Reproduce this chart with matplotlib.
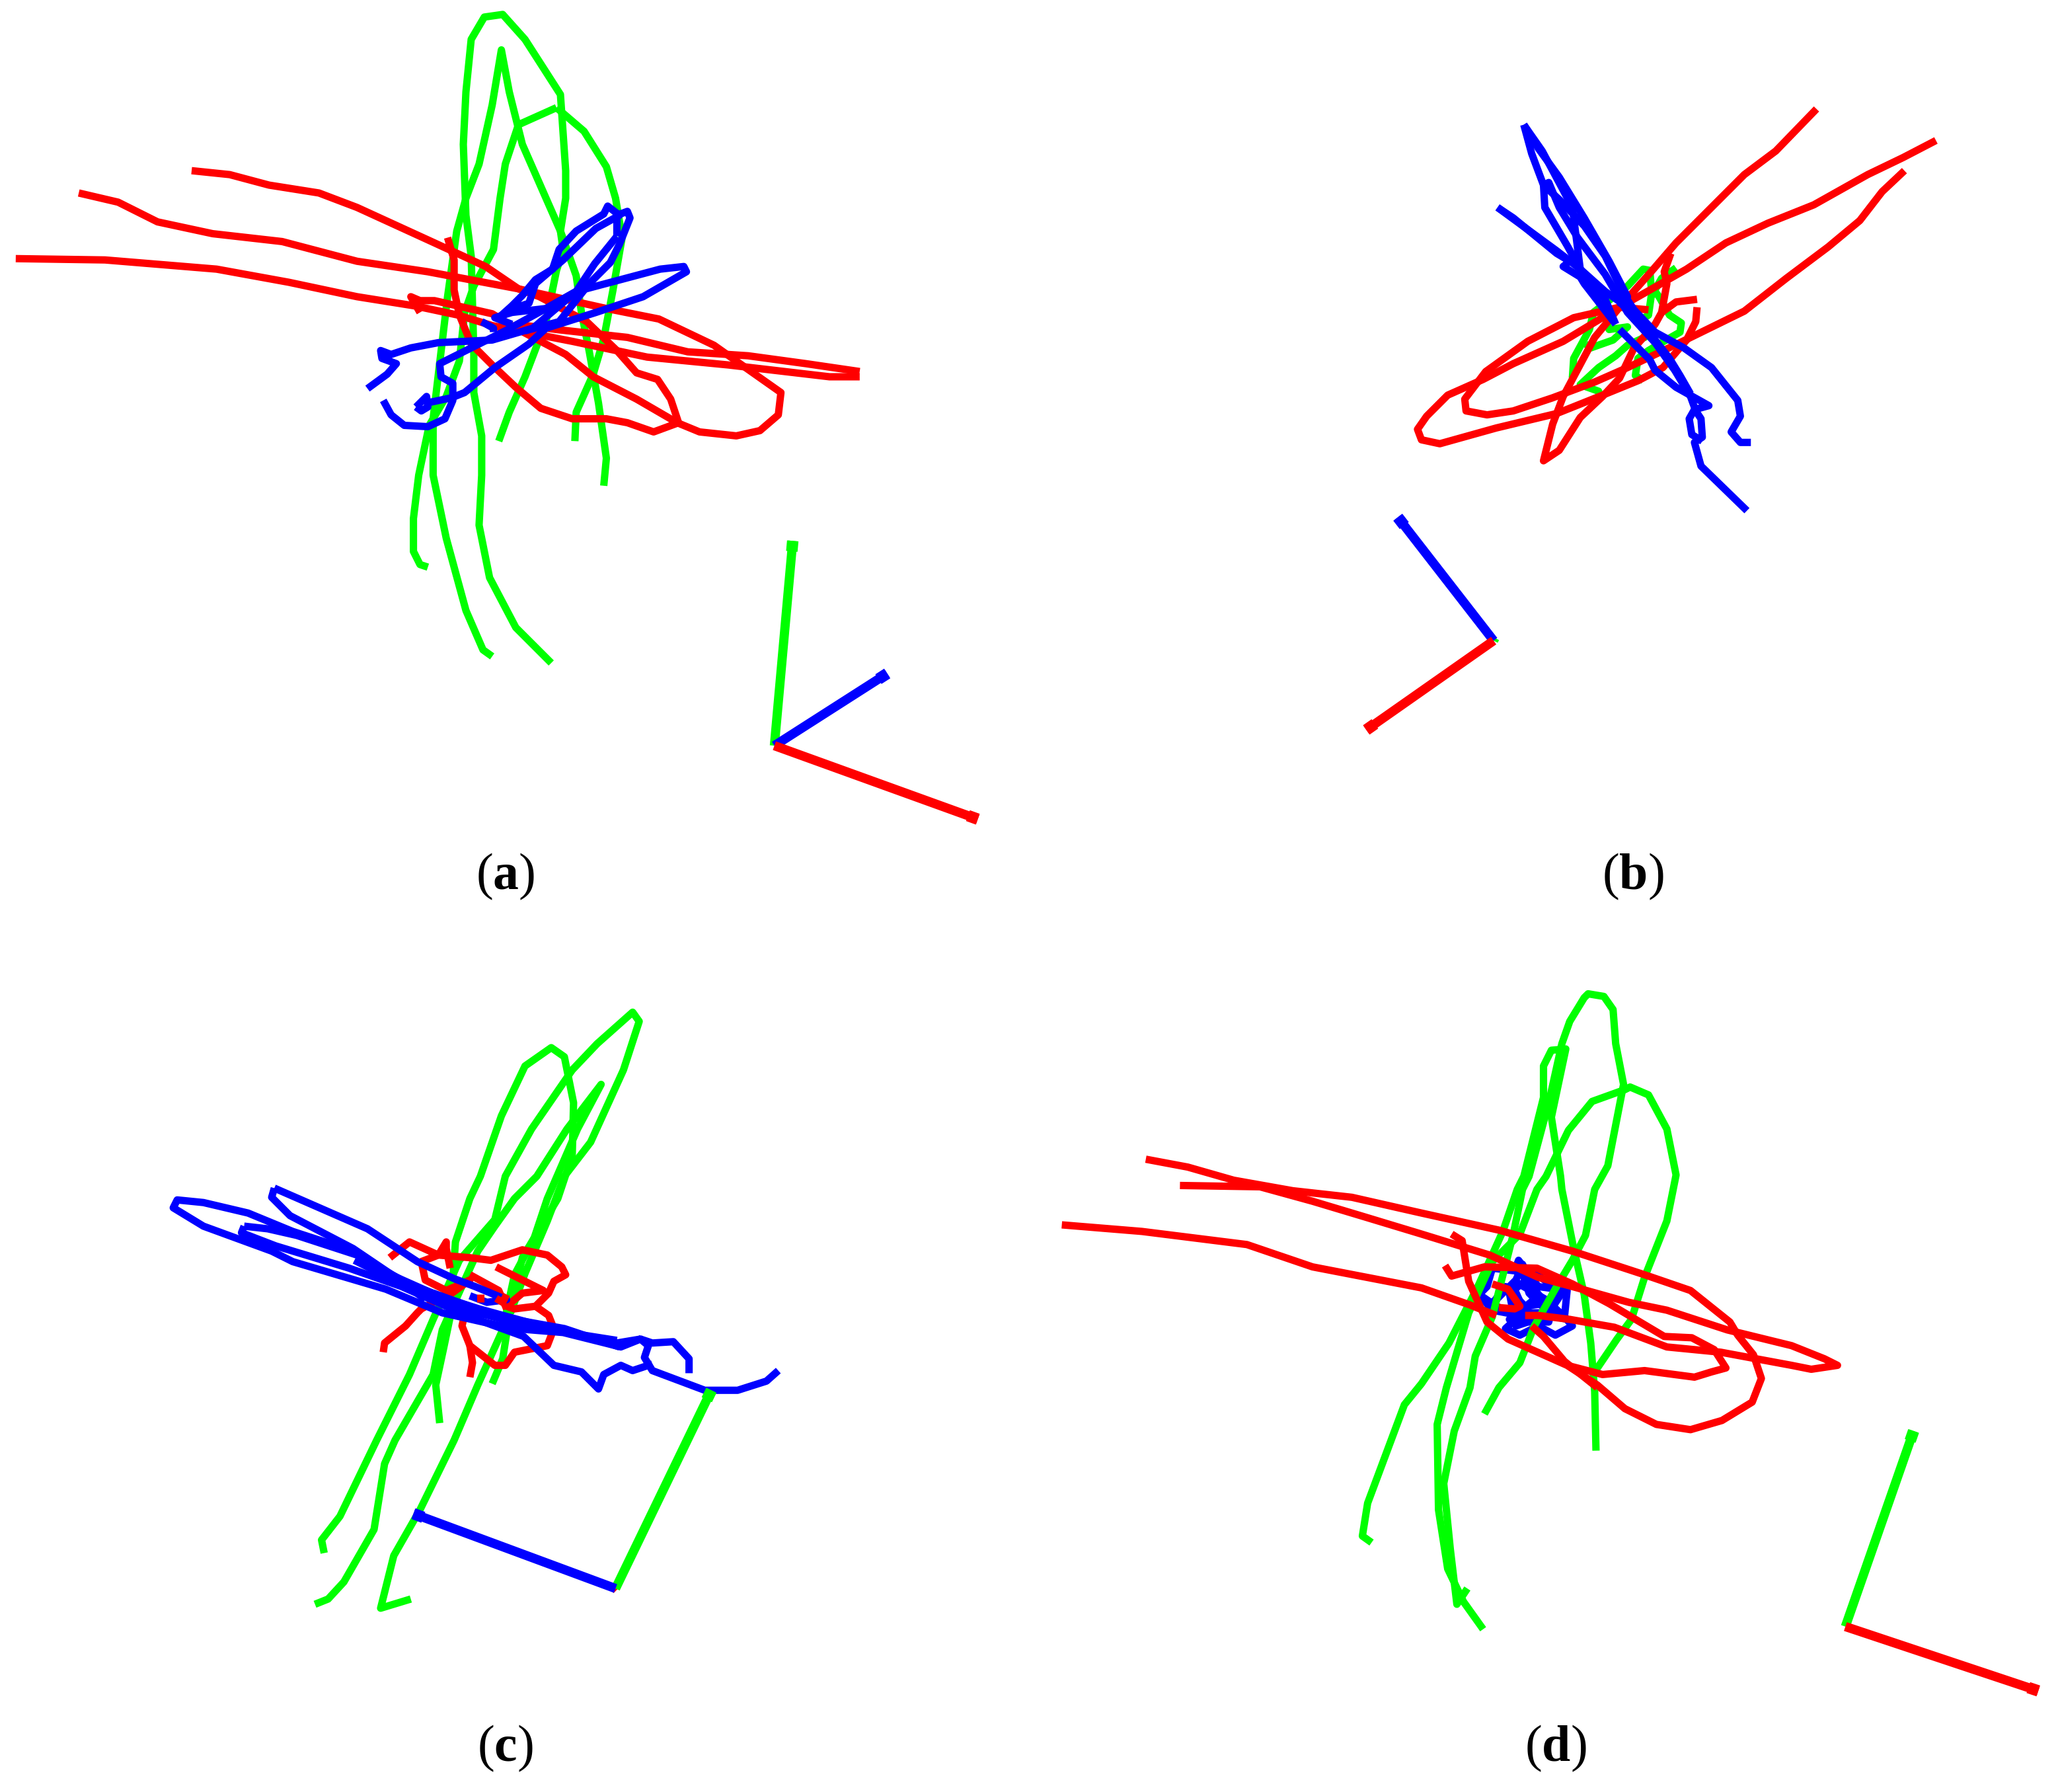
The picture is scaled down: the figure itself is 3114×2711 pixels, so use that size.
import math
import matplotlib
matplotlib.use("Agg")
import matplotlib.pyplot as plt

plt.rcParams['mathtext.fontset'] = 'custom'
plt.rcParams['mathtext.rm'] = 'Liberation Serif'
plt.rcParams['mathtext.bf'] = 'Liberation Serif:bold'
plt.rcParams['font.family'] = ['Liberation Serif']

RED, GREEN, BLUE = '#ff0000', '#00ff00', '#0000ff'

# ---- panel (a) ----
a_green = [
 [(375,500),(368,495),(355,465),(340,410),(330,362),(330,319),(334,285),(341,226),(348,176),(355,151),(365,125),(375,80),(382,38),(388,70),(398,110),(416,151),(427,176),(439,210),(443,238),(449,268),(456,307),(462,349),(460,370)],
 [(420,505),(410,495),(393,478),(373,440),(365,400),(367,362),(367,332),(361,299),(361,268),(359,195),(355,164),(353,110),(355,70),(359,30),(369,13),(383,11),(400,30),(427,72),(431,130),(431,151),(427,176),(429,190),(424,206),(416,245),(400,287),(388,314),(380,336)],
 [(424,82),(395,95),(385,125),(381,151),(376,190),(361,218),(354,238),(350,275),(340,302),(327,324),(319,362),(315,395),(315,420),(320,430),(326,432)],
 [(424,82),(445,100),(462,127),(469,151),(474,181),(467,221),(460,258),(452,285),(439,314),(438,336)],
]
a_red = [
 [(12,197),(80,198),(165,205),(220,215),(272,226),(316,233),(349,240),(375,248),(395,252),(436,260),(493,272),(555,278),(632,287),(655,287)],
 [(60,147),(90,154),(120,169),(162,178),(215,184),(272,199),(326,207),(395,220),(462,235),(502,243),(544,263),(568,280),(595,299),(593,316),(579,328),(561,332),(533,329),(516,322),(485,304),(452,287),(431,270),(393,250),(375,239),(331,229),(320,229),(313,226),(320,238)],
 [(146,130),(175,133),(205,141),(243,147),(272,158),(331,185),(370,203),(395,220),(411,226),(447,245),(470,267),(485,284),(501,289),(511,304),(517,322),(498,329),(478,322),(462,319),(436,319),(412,311),(393,295),(375,278),(359,262),(350,240),(346,221),(346,198),(341,181)],
 [(655,283),(614,277),(570,271),(524,268),(478,257),(424,251),(393,247)],
]
a_blue = [
 [(280,296),(295,285),(302,277),(291,273),(290,267),(298,270),(313,265),(334,261),(375,259),(406,250),(439,222),(503,205),(521,203),(523,207),(490,226),(454,238),(416,250),(403,262),(377,280),(354,299),(344,303),(325,307)],
 [(292,305),(298,316),(308,324),(326,325),(339,319),(345,305),(345,292),(336,287),(335,277),(349,270),(385,252),(416,235),(439,222)],
 [(317,310),(325,302),(326,310),(321,313),(317,310)],
 [(380,242),(390,233),(398,225),(408,213),(421,205),(426,190),(439,176),(460,163),(463,157),(472,164),(454,174),(429,198),(408,216),(403,231),(388,236),(380,242)],
 [(470,180),(470,164),(478,161),(480,166),(472,186),(465,200),(449,216),(426,245),(400,252)],
 [(470,180),(453,201),(439,222),(416,235),(390,238),(377,242),(390,247)],
 [(367,245),(376,250),(376,253)],
]
a_axis = {'origin': (590,568), GREEN: (604,412), BLUE: (676,513), RED: (745,624)}

# ---- panel (b) ----
b_green = [
 [(1198,288),(1199,273),(1211,251),(1214,238),(1240,218),(1252,205),(1257,206),(1258,218),(1264,226),(1272,240),(1281,246),(1280,253),(1266,261),(1256,267),(1248,273),(1246,286),(1252,290)],
 [(1277,204),(1266,212),(1258,226),(1256,240),(1248,245),(1257,251),(1253,257),(1240,263),(1231,271),(1218,280),(1204,293),(1218,298),(1219,301)],
 [(1223,242),(1226,251),(1240,249),(1229,259),(1212,265),(1208,262)],
]
b_red = [
 [(1384,83),(1353,115),(1329,133),(1304,158),(1277,185),(1258,207),(1234,234),(1199,242),(1164,260),(1132,283),(1116,304),(1117,313),(1133,316),(1153,313),(1183,303),(1215,291),(1240,280),(1280,261),(1329,237),(1361,212),(1393,188),(1417,168),(1434,146),(1451,130)],
 [(1475,107),(1450,120),(1423,133),(1382,156),(1347,170),(1315,185),(1285,205),(1234,234),(1191,260),(1153,277),(1130,289),(1103,301),(1087,317),(1080,327),(1083,335),(1097,338),(1140,326),(1186,315),(1221,301),(1248,290),(1267,280),(1285,259),(1292,245),(1293,234)],
 [(1293,228),(1277,230),(1266,238)],
 [(1273,193),(1268,207),(1270,216),(1266,238),(1261,247),(1245,265),(1234,288),(1221,302),(1204,318),(1188,343),(1176,351),(1183,323),(1191,302),(1215,257),(1234,234),(1256,236)],
]
b_blue = [
 [(1331,389),(1296,355),(1291,337),(1297,333),(1296,319),(1292,313),(1288,302),(1276,282),(1261,261),(1240,238),(1223,209),(1202,181),(1188,158),(1180,139),(1176,141),(1177,158),(1194,187),(1204,205),(1223,228),(1231,247)],
 [(1161,95),(1167,117),(1176,141),(1188,152),(1207,172),(1223,195),(1237,224),(1245,236),(1261,253),(1283,265),(1304,280),(1324,305),(1326,317),(1319,329),(1326,337),(1334,337)],
 [(1141,158),(1153,166),(1186,193),(1196,199),(1191,203),(1204,211),(1207,216),(1231,247)],
 [(1234,251),(1257,274),(1261,282),(1277,295),(1302,309),(1291,312),(1287,319),(1289,331),(1297,336)],
 [(1161,95),(1172,113),(1188,135),(1207,166),(1226,199),(1240,226),(1234,234)],
 [(1161,95),(1175,115),(1198,158),(1204,205)],
 [(1141,158),(1186,191),(1204,205),(1223,222),(1240,234),(1261,259),(1272,273),(1280,286),(1288,300)],
]
b_axis = {'origin': (1138,488), GREEN: (1139,486), BLUE: (1065,394), RED: (1041,556)}

# ---- panel (c) ----
c_green = [
 [(335,1084),(332,1055),(338,1027),(343,1003),(347,946),(358,913),(366,896),(382,850),(400,812),(420,798),(430,805),(437,840),(436,880),(425,913),(398,958),(389,997),(383,1035),(375,1054)],
 [(240,1222),(250,1218),(262,1205),(285,1165),(293,1115),(301,1097),(330,1047),(337,1013),(364,953),(377,934),(392,913),(409,896),(432,860),(458,826),(440,860),(417,913),(407,943),(392,971),(383,1013),(364,1055),(346,1097),(320,1150),(300,1185),(290,1225),(313,1218)],
 [(247,1183),(245,1173),(259,1155),(287,1097),(312,1047),(330,1005),(350,960),(377,929),(385,896),(405,860),(436,815),(455,795),(482,771),(487,778),(475,815),(450,870),(430,896),(417,930),(400,970),(389,1000)],
]
c_red = [
 [(292,1030),(293,1023),(309,1010),(318,1000),(321,997),(334,990),(343,986),(358,975),(340,983),(324,975),(321,961),(334,956),(358,958),(374,960),(398,952),(417,956),(428,965),(431,971),(422,976),(418,985),(408,995),(418,1002),(422,1012),(417,1025),(402,1028),(392,1030),(385,1040),(377,1040),(358,1025),(352,1010),(355,997)],
 [(297,958),(312,946),(334,956),(340,946),(340,951),(343,966)],
 [(378,965),(414,983),(398,985),(386,995),(392,997),(408,995)],
 [(358,971),(380,983),(386,997)],
 [(358,1025),(360,1038),(358,1049)],
]
c_blue = [
 [(593,1044),(584,1052),(562,1059),(537,1059),(497,1044),(491,1034),(494,1025),(488,1020),(473,1026),(429,1015),(392,1012),(368,1007),(337,1000),(294,982),(223,961),(207,953),(155,934),(132,920),(135,914),(155,916),(189,924),(223,938),(269,953),(306,976),(343,990),(365,997),(420,1012),(470,1023),(488,1020)],
 [(525,1046),(525,1035),(513,1022),(497,1023),(488,1020)],
 [(186,934),(184,939),(210,949),(266,966),(306,980),(358,1003),(377,1010),(399,1018),(422,1040),(443,1045),(456,1058),(460,1047),(473,1040),(482,1044),(497,1039)],
 [(186,934),(204,936),(226,941),(272,956),(306,975),(343,995),(392,1007),(422,1012)],
 [(209,905),(207,912),(221,926),(269,951),(306,976),(324,990)],
 [(209,905),(280,936),(318,961),(346,974),(362,980),(386,990),(371,992),(358,987)],
 [(300,972),(345,992),(400,1010),(470,1021)],
 [(330,985),(380,1003),(430,1012),(472,1026)],
 [(270,960),(320,985),(365,1003)],
]
c_red_inner = [
 [(366,986),(366,992)],
 [(378,989),(383,992),(386,986)],
]
c_axis = {'origin': (469,1210), RED: (470,1211), GREEN: (542,1059), BLUE: (315,1153)}

# ---- panel (d) ----
d_green = [
 [(1045,1175),(1038,1170),(1042,1145),(1070,1070),(1083,1054),(1104,1023),(1126,980),(1145,938),(1156,906),(1161,896),(1176,836),(1176,812),(1182,800),(1193,799),(1182,851),(1189,896),(1190,906),(1199,951),(1207,986),(1212,1023),(1215,1060),(1216,1105)],
 [(1130,1241),(1115,1220),(1103,1195),(1096,1150),(1095,1085),(1102,1057),(1119,1000),(1137,961),(1158,940),(1171,906),(1178,896),(1195,861),(1213,839),(1238,830),(1242,828),(1256,834),(1270,860),(1277,895),(1270,930),(1253,973),(1243,1005),(1232,1020),(1213,1048)],
 [(1118,1210),(1110,1222),(1105,1180),(1100,1130),(1108,1090),(1120,1057),(1124,1033),(1137,1003),(1153,940),(1160,906),(1165,896),(1180,840),(1190,795),(1196,778),(1207,760),(1210,757),(1222,759),(1229,769),(1231,795),(1237,826),(1225,888),(1215,906),(1208,941),(1198,960),(1186,980),(1169,1010),(1158,1038),(1142,1057),(1131,1077)],
]
d_red = [
 [(873,883),(905,889),(940,899),(985,907),(1030,912),(1083,924),(1142,937),(1198,953),(1253,971),(1288,983),(1318,1007),(1324,1017),(1336,1032),(1342,1050),(1335,1068),(1312,1082),(1288,1089),(1262,1085),(1238,1073),(1217,1055),(1194,1040),(1149,1020),(1133,1007),(1119,976),(1114,945),(1106,940)],
 [(899,903),(960,904),(1000,915),(1040,927),(1083,940),(1135,956),(1172,973),(1198,980),(1241,992),(1270,998),(1316,1013),(1365,1025),(1390,1035),(1400,1040),(1380,1043),(1365,1040),(1311,1030),(1270,1026),(1230,1011),(1196,1005),(1172,1002),(1162,1002)],
 [(809,933),(870,938),(950,948),(1000,965),(1083,981),(1120,994),(1140,1002)],
 [(1101,964),(1106,972),(1131,965),(1171,966),(1198,978),(1226,993),(1268,1018),(1289,1019),(1306,1028),(1315,1042),(1304,1045),(1291,1049),(1253,1044),(1221,1047),(1194,1040)],
 [(1137,978),(1149,982),(1158,995),(1154,997),(1142,996)],
 [(1167,1010),(1176,1018),(1192,1037),(1217,1057)],
]
d_blue = [
 [(1137,966),(1154,968),(1157,960),(1172,980),(1194,983),(1192,1003),(1198,1010),(1185,1017),(1172,1010),(1158,1017),(1147,1012),(1158,1002),(1137,998),(1127,986),(1133,980),(1137,966)],
 [(1127,986),(1140,995),(1153,1000),(1172,1000),(1194,1005),(1178,990),(1154,976),(1137,993),(1147,980),(1162,995),(1176,993),(1167,978),(1160,963),(1153,980),(1165,1007),(1180,1007),(1185,985)],
 [(1157,960),(1165,985),(1180,1000),(1190,985),(1170,970),(1150,985),(1155,1010),(1170,1005),(1150,1005),(1175,985)],
]
d_axis = {'origin': (1406,1239), GREEN: (1458,1090), RED: (1553,1288)}

captions = ['a', 'b', 'c', 'd']
caption_x = [385, 1244, 385, 1185]
caption_y = [668, 668, 1332, 1332]

fig = plt.figure(figsize=(31.14, 27.11), dpi=100, facecolor='white')
ax = fig.add_axes([0, 0, 1, 1])
ax.set_xlim(0, 1568)
ax.set_ylim(1365, 0)
ax.axis('off')

def draw(curves, color, z):
    for c in curves:
        ax.plot([p[0] for p in c], [p[1] for p in c], color=color, lw=8.0, zorder=z,
                solid_capstyle='butt', solid_joinstyle='round')

def draw_axis(spec, z):
    o = spec['origin']
    for col, tip in spec.items():
        if col == 'origin':
            continue
        ax.plot([o[0], tip[0]], [o[1], tip[1]], color=col, lw=10, zorder=z,
                solid_capstyle='butt')
        n = math.hypot(tip[0] - o[0], tip[1] - o[1])
        if n > 20:
            ux, uy = (tip[0] - o[0]) / n, (tip[1] - o[1]) / n
            ax.plot([tip[0] - 8 * ux, tip[0]], [tip[1] - 8 * uy, tip[1]],
                    color=col, lw=12.5, zorder=z, solid_capstyle='butt')

panels = [(a_green, a_red, a_blue, a_axis, (2, 3, 4)),
          (b_green, b_red, b_blue, b_axis, (2, 3, 4)),
          (c_green, c_red, c_blue, c_axis, (2, 3, 4)),
          (d_green, d_red, d_blue, d_axis, (3, 4, 2))]
for g, r, b, spec, (zg, zr, zb) in panels:
    draw(g, GREEN, zg)
    draw(r, RED, zr)
    draw(b, BLUE, zb)
    draw_axis(spec, 5)
draw(c_red_inner, RED, 4.5)

for s, x, y in zip(captions, caption_x, caption_y):
    ax.text(x, y, r'($\mathbf{%s}$)' % s, ha='center', va='center', fontsize=56, color='black')

fig.savefig('out.png', dpi=100, facecolor='white')
